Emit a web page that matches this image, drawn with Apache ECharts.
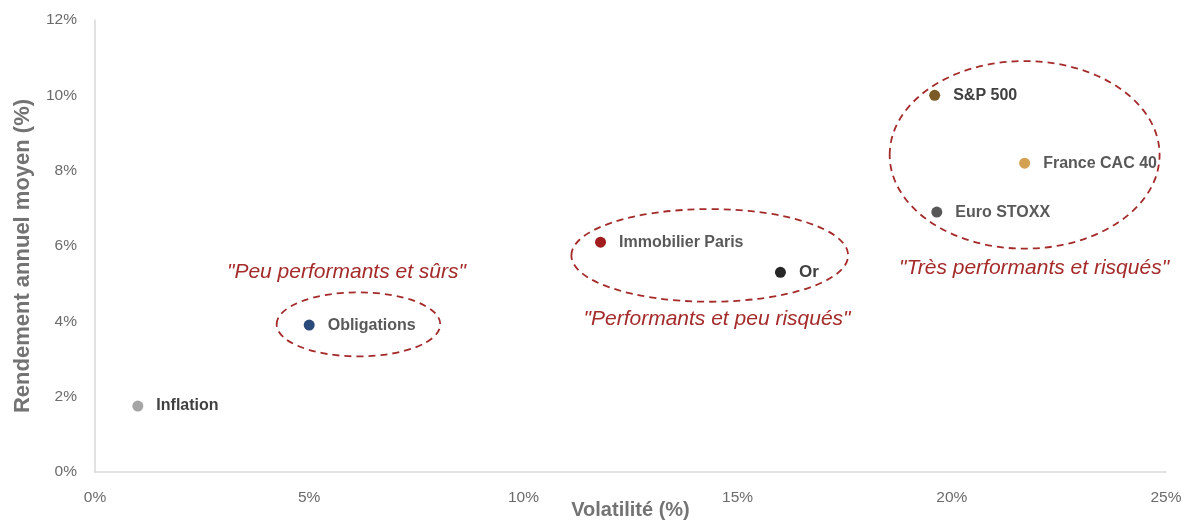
<!DOCTYPE html>
<html>
<head>
<meta charset="utf-8">
<script src="https://cdn.jsdelivr.net/npm/echarts@6/dist/echarts.min.js"></script>
<style>html,body{margin:0;padding:0;background:#fff}#c{width:1191px;height:520px}</style>
</head>
<body>
<div id="c"></div>
<script>
// Data
var names = ['Inflation', 'Obligations', 'Immobilier Paris', 'Or', 'S&P 500', 'France CAC 40', 'Euro STOXX'];
var volatility = [1.0, 5.0, 11.8, 16.0, 19.6, 21.7, 19.65];
var returns = [1.75, 3.9, 6.1, 5.3, 10.0, 8.2, 6.9];
var pointColors = ['#a5a5a5', '#2a4a7c', '#a11c1c', '#262626', '#7b5a25', '#d4a052', '#575757'];
var labelColors = ['#404040', '#595959', '#595959', '#404040', '#404040', '#595959', '#595959'];
var xTicks = [0, 5, 10, 15, 20, 25];
var yTicks = [0, 2, 4, 6, 8, 10, 12];
// Annotation groups: ellipse centre & radii (data units), caption and its position
var groupCx = [6.15, 14.35, 21.7];
var groupCy = [3.92, 5.75, 8.42];
var groupRx = [1.91, 3.23, 3.15];
var groupRy = [0.85, 1.23, 2.49];
var captions = ['"Peu performants et sûrs"', '"Performants et peu risqués"', '"Très performants et risqués"'];
var captionX = [5.87, 14.52, 21.92];
var captionY = [5.30, 4.05, 5.40];

var FONT = 'Liberation Sans';
var chart = echarts.init(document.getElementById('c'));

var scatterData = names.map(function (n, i) {
  return {
    name: n,
    value: [volatility[i], returns[i]],
    itemStyle: { color: pointColors[i], opacity: 1 },
    label: { color: labelColors[i], fontSize: n === 'Or' ? 17 : 16 }
  };
});

var groupData = groupCx.map(function (c, i) {
  return [c, groupCy[i], groupRx[i], groupRy[i], captionX[i], captionY[i], i];
});

chart.setOption({
  animation: false,
  grid: { left: 95, right: 25, top: 20, bottom: 48, outerBoundsMode: 'none', containLabel: false },
  xAxis: {
    type: 'value', min: 0, max: 25, interval: 5,
    name: 'Volatilité (%)', nameLocation: 'middle', nameGap: 38, nameMoveOverlap: false,
    nameTextStyle: { fontFamily: FONT, fontSize: 20, fontWeight: 'bold', color: '#737373', verticalAlign: 'middle' },
    axisLine: { show: true, lineStyle: { color: '#d9d9d9', width: 1.5 } },
    axisTick: { show: false },
    splitLine: { show: false },
    axisLabel: { fontFamily: FONT, fontSize: 15.5, color: '#6b6b6b', margin: 18,
      formatter: function (v) { return xTicks.indexOf(v) >= 0 ? v + '%' : ''; } }
  },
  yAxis: {
    type: 'value', min: 0, max: 12, interval: 2,
    name: 'Rendement annuel moyen (%)', nameLocation: 'middle', nameGap: 61, nameRotate: 90,
    nameTextStyle: { fontFamily: FONT, fontSize: 22, fontWeight: 'bold', color: '#737373', padding: [0, 20, 0, 0] },
    axisLine: { show: true, lineStyle: { color: '#d9d9d9', width: 1.5 } },
    axisTick: { show: false },
    splitLine: { show: false },
    axisLabel: { fontFamily: FONT, fontSize: 15.5, color: '#6b6b6b', margin: 18,
      formatter: function (v) { return yTicks.indexOf(v) >= 0 ? v + '%' : ''; } }
  },
  series: [
    {
      type: 'custom',
      z: 1,
      clip: false,
      data: groupData,
      renderItem: function (params, api) {
        var c = api.coord([api.value(0), api.value(1)]);
        var s = api.size([api.value(2), api.value(3)]);
        var t = api.coord([api.value(4), api.value(5)]);
        var idx = api.value(6);
        return {
          type: 'group',
          children: [
            { type: 'ellipse', shape: { cx: c[0], cy: c[1], rx: s[0], ry: s[1] },
              style: { fill: 'none', stroke: '#a52a2a', lineWidth: 1.8, lineDash: [7, 5] } },
            { type: 'text', x: t[0], y: t[1],
              style: { text: captions[idx], fill: '#a52a2a', font: 'italic 21px "' + FONT + '"',
                align: 'center', verticalAlign: 'middle' } }
          ]
        };
      }
    },
    {
      type: 'scatter',
      z: 3,
      symbolSize: 11,
      data: scatterData,
      label: {
        show: true, position: 'right', distance: 13,
        formatter: '{b}', fontFamily: FONT, fontWeight: 'bold'
      }
    }
  ]
});
</script>
</body>
</html>
